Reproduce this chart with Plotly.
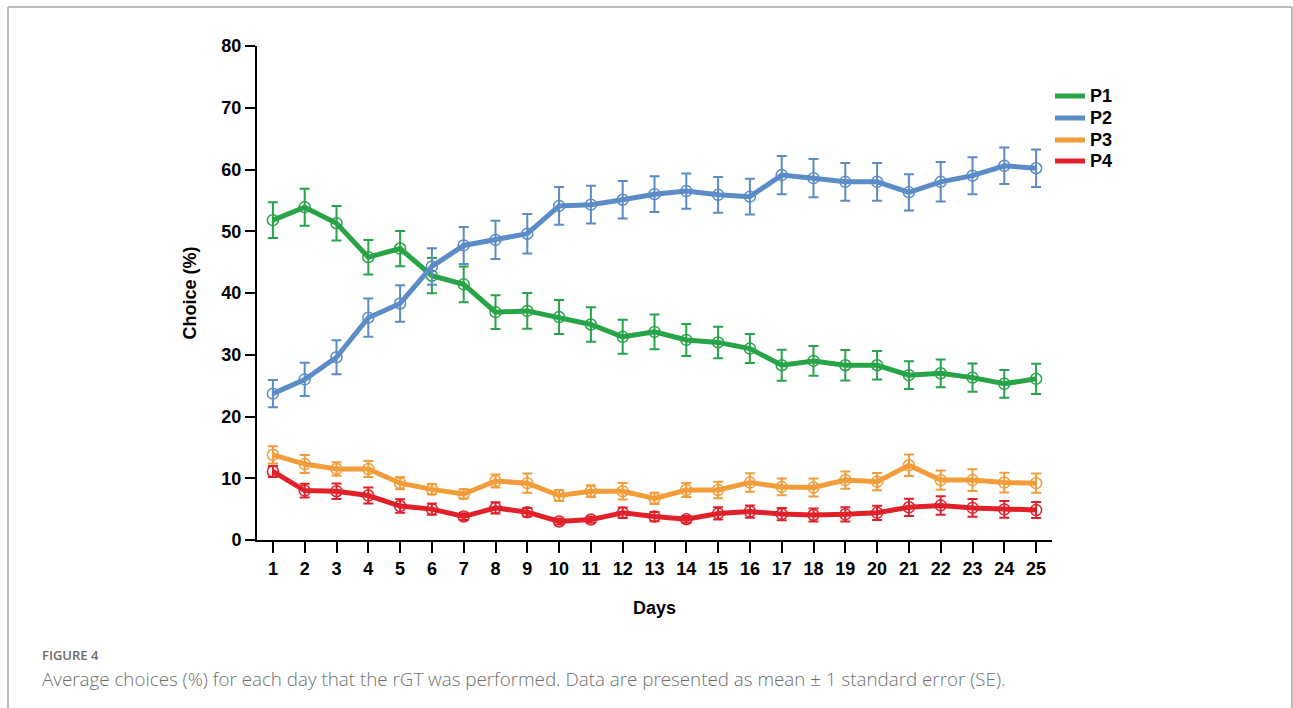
import plotly.graph_objects as go

days = list(range(1, 26))

p1_mean = [51.8, 53.9, 51.3, 45.8, 47.2, 42.8, 41.4, 36.9, 37.1, 36.1, 34.9, 32.9, 33.7,
           32.4, 32.0, 31.0, 28.3, 29.0, 28.3, 28.3, 26.7, 27.0, 26.3, 25.3, 26.1]
p1_se = [2.9, 3.0, 2.8, 2.8, 2.85, 2.85, 2.9, 2.75, 2.9, 2.75, 2.8, 2.75, 2.8,
         2.6, 2.55, 2.35, 2.5, 2.4, 2.45, 2.3, 2.25, 2.25, 2.3, 2.25, 2.45]

p2_mean = [23.7, 26.0, 29.6, 36.0, 38.3, 44.3, 47.7, 48.6, 49.6, 54.1, 54.3, 55.1, 56.0,
           56.5, 55.9, 55.6, 59.1, 58.6, 58.0, 58.0, 56.3, 58.0, 59.0, 60.6, 60.2]
p2_se = [2.2, 2.7, 2.75, 3.1, 2.95, 2.95, 3.0, 3.1, 3.2, 3.05, 3.05, 3.05, 2.9,
         2.85, 2.9, 2.9, 3.1, 3.1, 3.05, 3.05, 2.95, 3.2, 3.0, 2.95, 3.05]

p3_mean = [13.8, 12.3, 11.5, 11.5, 9.2, 8.2, 7.45, 9.55, 9.2, 7.2, 7.9, 7.9, 6.75,
           8.1, 8.1, 9.3, 8.6, 8.5, 9.7, 9.45, 12.1, 9.7, 9.7, 9.3, 9.2]
p3_se = [1.4, 1.45, 1.1, 1.3, 1.0, 0.85, 0.75, 1.05, 1.55, 0.9, 0.95, 1.35, 0.9,
         1.15, 1.35, 1.5, 1.35, 1.45, 1.4, 1.4, 1.75, 1.55, 1.75, 1.6, 1.55]

p4_mean = [11.1, 8.0, 7.9, 7.2, 5.5, 5.0, 3.8, 5.2, 4.5, 3.0, 3.3, 4.4, 3.8,
           3.35, 4.3, 4.6, 4.2, 4.05, 4.15, 4.4, 5.3, 5.6, 5.2, 4.95, 4.85]
p4_se = [0.9, 1.1, 1.25, 1.3, 1.1, 0.9, 0.55, 0.9, 0.7, 0.5, 0.5, 0.85, 0.75,
         0.55, 1.0, 1.0, 1.0, 1.05, 1.15, 1.15, 1.4, 1.5, 1.45, 1.35, 1.3]

series_names = ["P1", "P2", "P3", "P4"]
series_colors = ["#28a448", "#5b8cc8", "#f39d3a", "#e2202a"]
series_means = [p1_mean, p2_mean, p3_mean, p4_mean]
series_ses = [p1_se, p2_se, p3_se, p4_se]

y_ticks = [0, 10, 20, 30, 40, 50, 60, 70, 80]

BOLD = "Liberation Sans"

fig = go.Figure()

for name, color, mean, se in zip(series_names, series_colors, series_means, series_ses):
    fig.add_trace(go.Scatter(
        x=days, y=mean, name=name, mode="lines+markers",
        line=dict(color=color, width=5),
        marker=dict(symbol="circle-open", size=11, color=color, line=dict(width=1.5, color=color)),
        error_y=dict(type="data", array=se, visible=True, color=color, thickness=2, width=5),
        showlegend=False,
    ))

# plot area spans 257..1052 px horizontally, 46..540 px vertically
L, R, T, B = 257, 1052, 46, 540
W, H = 1293, 708

def px_x(px):
    return (px - L) / (R - L)

def px_y(py):
    return (B - py) / (B - T)

shapes = [
    # page frame
    dict(type="line", xref="paper", yref="paper", x0=px_x(8), x1=px_x(8), y0=px_y(7), y1=px_y(720),
         line=dict(color="#bdbdbd", width=2)),
    dict(type="line", xref="paper", yref="paper", x0=px_x(8), x1=px_x(1292), y0=px_y(7), y1=px_y(7),
         line=dict(color="#bdbdbd", width=2)),
    dict(type="line", xref="paper", yref="paper", x0=px_x(1292), x1=px_x(1292), y0=px_y(7), y1=px_y(720),
         line=dict(color="#bdbdbd", width=2)),
    # short extension of the x axis line left of the y axis
    dict(type="line", xref="paper", yref="paper", x0=px_x(245), x1=0, y0=0, y1=0,
         line=dict(color="black", width=2)),
]

annotations = [
    dict(text="FIGURE 4", xref="paper", yref="paper", x=px_x(40), y=px_y(655),
         xanchor="left", yanchor="middle", showarrow=False,
         font=dict(family="Open Sans", size=13, color="#6b6b6b", weight=600)),
    dict(text="Average choices (%) for each day that the rGT was performed. Data are presented as mean \u00b1 1 standard error (SE).",
         xref="paper", yref="paper", x=px_x(40), y=px_y(679),
         xanchor="left", yanchor="middle", showarrow=False,
         font=dict(family="Open Sans", size=18.8, color="#707070", weight=300)),
]

# key: a short line swatch and a bold label per series
legend_rows = [96, 118, 140, 161]
for name, color, row in zip(series_names, series_colors, legend_rows):
    shapes.append(dict(type="line", xref="paper", yref="paper",
                       x0=px_x(1055), x1=px_x(1085), y0=px_y(row), y1=px_y(row),
                       line=dict(color=color, width=5)))
    annotations.append(dict(text=name, xref="paper", yref="paper", x=px_x(1088), y=px_y(row),
                            xanchor="left", yanchor="middle", showarrow=False,
                            font=dict(family=BOLD, size=18, weight="bold", color="black")))

fig.update_layout(
    width=W, height=H,
    margin=dict(l=L, r=W - R, t=T, b=H - B, pad=0),
    paper_bgcolor="white", plot_bgcolor="white",
    font=dict(family=BOLD, color="black"),
    showlegend=False,
    xaxis=dict(
        range=[0.5, 25.5], tickmode="array", tickvals=days, ticktext=[str(d) for d in days],
        showline=True, linecolor="black", linewidth=2, ticks="outside", ticklen=11,
        tickwidth=2, tickcolor="black", showgrid=False, zeroline=False,
        tickfont=dict(family=BOLD, size=18, weight="bold"),
        title=dict(text="Days", font=dict(family=BOLD, size=18, weight="bold"), standoff=24),
    ),
    yaxis=dict(
        range=[0, 80], tickmode="array", tickvals=y_ticks,
        showline=True, linecolor="black", linewidth=2, ticks="outside", ticklen=10,
        tickwidth=2, tickcolor="black", showgrid=False, zeroline=False,
        tickfont=dict(family=BOLD, size=18, weight="bold"),
        title=dict(text="Choice (%)", font=dict(family=BOLD, size=18, weight="bold"), standoff=20),
    ),
    shapes=shapes,
    annotations=annotations,
)

fig.write_html("out.html")
